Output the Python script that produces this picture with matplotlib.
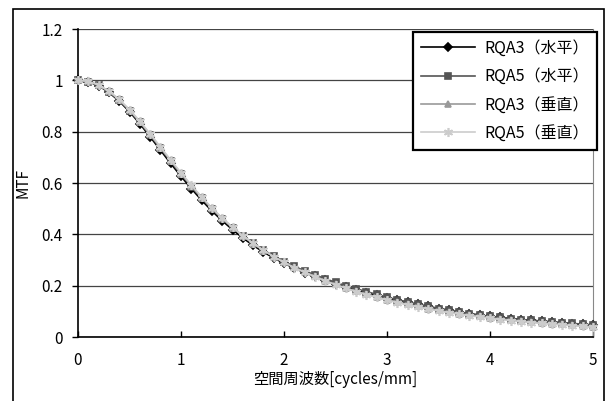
import matplotlib
matplotlib.use("Agg")
import matplotlib.pyplot as plt
from matplotlib.patches import Rectangle

plt.rcParams['font.family'] = ['Noto Sans CJK JP', 'DejaVu Sans']

## Data (spatial frequency in cycles/mm, MTF)
freq = [0.0, 0.1, 0.2, 0.3, 0.4, 0.5, 0.6, 0.7, 0.8, 0.9,
        1.0, 1.1, 1.2, 1.3, 1.4, 1.5, 1.6, 1.7, 1.8, 1.9,
        2.0, 2.1, 2.2, 2.3, 2.4, 2.5, 2.6, 2.7, 2.8, 2.9,
        3.0, 3.1, 3.2, 3.3, 3.4, 3.5, 3.6, 3.7, 3.8, 3.9,
        4.0, 4.1, 4.2, 4.3, 4.4, 4.5, 4.6, 4.7, 4.8, 4.9, 5.0]

rqa3_h = [1.000, 0.995, 0.979, 0.953, 0.919, 0.878, 0.831, 0.780, 0.728, 0.676,
          0.626, 0.578, 0.533, 0.491, 0.453, 0.418, 0.386, 0.357, 0.331, 0.308,
          0.287, 0.268, 0.251, 0.236, 0.221, 0.208, 0.195, 0.184, 0.173, 0.163,
          0.153, 0.144, 0.135, 0.127, 0.119, 0.111, 0.104, 0.097, 0.091, 0.085,
          0.080, 0.076, 0.072, 0.068, 0.065, 0.062, 0.058, 0.055, 0.052, 0.049, 0.046]

rqa5_h = [1.000, 0.995, 0.980, 0.955, 0.922, 0.882, 0.836, 0.786, 0.735, 0.684,
          0.634, 0.586, 0.541, 0.499, 0.461, 0.426, 0.394, 0.365, 0.339, 0.315,
          0.294, 0.275, 0.258, 0.242, 0.227, 0.213, 0.200, 0.188, 0.177, 0.166,
          0.155, 0.145, 0.136, 0.127, 0.119, 0.111, 0.104, 0.097, 0.091, 0.085,
          0.080, 0.076, 0.072, 0.068, 0.065, 0.062, 0.059, 0.056, 0.053, 0.050, 0.047]

rqa3_v = [1.000, 0.996, 0.981, 0.957, 0.924, 0.884, 0.838, 0.789, 0.738, 0.687,
          0.637, 0.589, 0.543, 0.501, 0.462, 0.426, 0.394, 0.364, 0.337, 0.313,
          0.291, 0.271, 0.253, 0.236, 0.220, 0.205, 0.192, 0.179, 0.167, 0.156,
          0.146, 0.136, 0.127, 0.119, 0.111, 0.104, 0.097, 0.091, 0.085, 0.080,
          0.075, 0.070, 0.066, 0.062, 0.058, 0.055, 0.052, 0.049, 0.046, 0.043, 0.040]

rqa5_v = [1.000, 0.996, 0.982, 0.958, 0.926, 0.886, 0.841, 0.792, 0.741, 0.690,
          0.640, 0.592, 0.546, 0.503, 0.464, 0.428, 0.395, 0.365, 0.338, 0.313,
          0.291, 0.270, 0.252, 0.235, 0.219, 0.204, 0.190, 0.177, 0.165, 0.154,
          0.144, 0.134, 0.125, 0.117, 0.109, 0.102, 0.095, 0.089, 0.083, 0.078,
          0.073, 0.068, 0.064, 0.060, 0.056, 0.053, 0.050, 0.047, 0.044, 0.041, 0.038]

labels = ['RQA3（水平）', 'RQA5（水平）', 'RQA3（垂直）', 'RQA5（垂直）']
xticks = [0, 1, 2, 3, 4, 5]
yticks = [0, 0.2, 0.4, 0.6, 0.8, 1.0, 1.2]
ytick_labels = ['0', '0.2', '0.4', '0.6', '0.8', '1', '1.2']

## Figure
fig = plt.figure(figsize=(6.10, 4.01), dpi=100)
ax = fig.add_axes([78/610, 1-337/401, (593-78)/610, (337-29)/401])

# outer chart frame (bottom edge lies below the image)
fig.patches.append(Rectangle((13/610, -0.1), (604-13)/610, 1-9/401+0.1,
                             transform=fig.transFigure, fill=False,
                             edgecolor='black', linewidth=1.2, clip_on=False))

series = [rqa3_h, rqa5_h, rqa3_v, rqa5_v]
colors = ['#000000', '#555555', '#999999', '#cccccc']
markers = ['D', 's', '^', (6, 2, 0)]
msizes = [4.5, 4.5, 5, 6.5]
for vals, c, m, ms, lab in zip(series, colors, markers, msizes, labels):
    ax.plot(freq, vals, color=c, marker=m, markersize=ms, linewidth=1.2,
            markerfacecolor=c, markeredgecolor=c, markeredgewidth=1.2,
            label=lab, clip_on=False, zorder=3)

ax.set_xlim(0, 5)
ax.set_ylim(0, 1.2)
ax.set_xticks(xticks)
ax.set_xticklabels([str(v) for v in xticks])
ax.set_yticks(yticks)
ax.set_yticklabels(ytick_labels)
ax.yaxis.grid(True, color='#444444', linewidth=0.9)
ax.set_axisbelow(True)

ax.tick_params(axis='x', direction='in', length=4, width=1, pad=11, labelsize=11)
ax.tick_params(axis='y', direction='out', length=4, width=1, pad=7, labelsize=11)

ax.spines['top'].set_visible(False)
ax.spines['right'].set_color('#888888')
ax.spines['right'].set_linewidth(0.8)
ax.spines['left'].set_linewidth(1.2)
ax.spines['bottom'].set_linewidth(1.2)

ax.set_xlabel('空間周波数[cycles/mm]', fontsize=11, labelpad=1)
ax.set_ylabel('MTF', fontsize=11, labelpad=7)

leg = ax.legend(loc='upper right', bbox_to_anchor=(597/610, 1-32/401),
                bbox_transform=fig.transFigure, borderaxespad=0,
                fancybox=False, framealpha=1, edgecolor='black',
                fontsize=11.5, handlelength=3.4, labelspacing=0.7,
                handletextpad=0.6, borderpad=0.5)
leg.get_frame().set_linewidth(1.6)

plt.savefig("out.png", dpi=100)
